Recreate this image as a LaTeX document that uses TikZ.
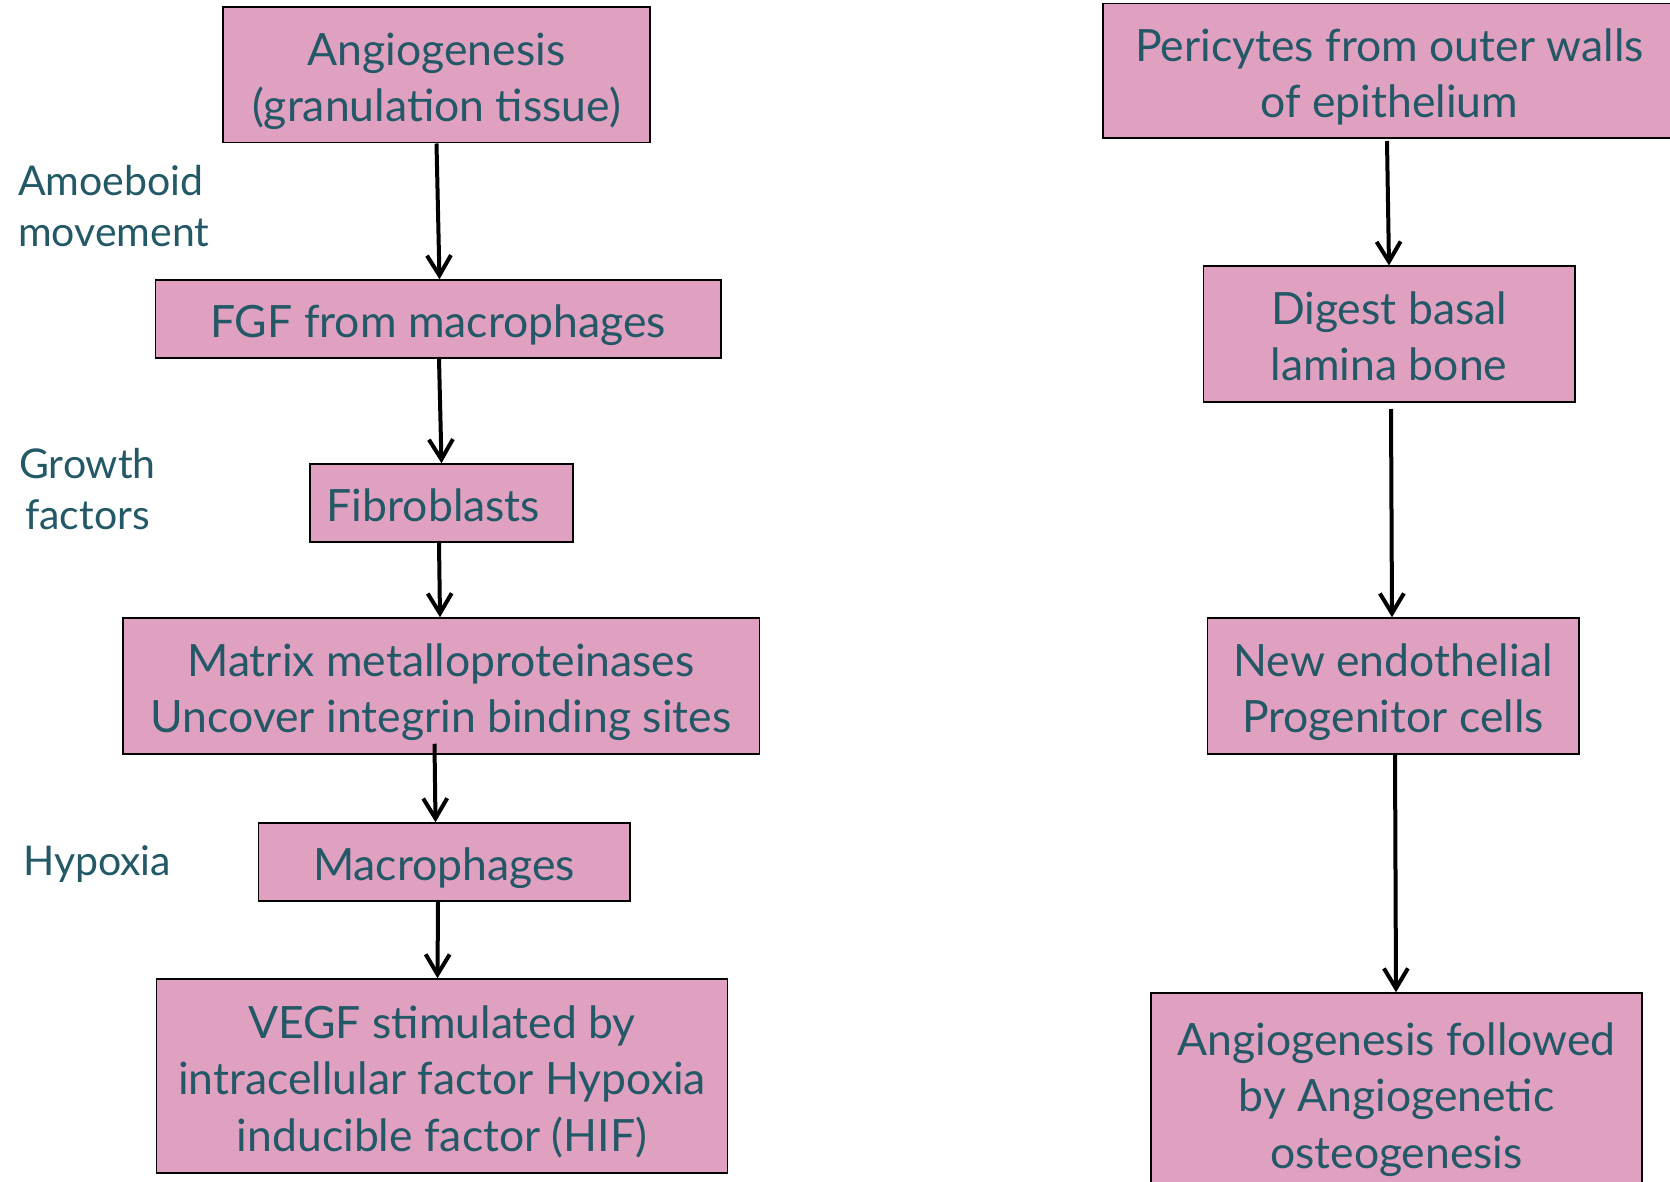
\documentclass[tikz,border=0pt]{standalone}
\usepackage{fontspec}
\setmainfont{Lato}
\usetikzlibrary{arrows.meta}
\definecolor{boxpink}{RGB}{224,160,192}
\definecolor{tealtext}{RGB}{35,88,102}
\tikzset{
  stage/.style={draw=black, line width=1.5pt, fill=boxpink, text=tealtext,
    align=center, inner sep=0pt, text depth=0pt, font=\fontsize{44.5}{56.5}\selectfont},
  oneline/.style={text height=37pt},
  twolines/.style={text height=93.5pt},
  threelines/.style={text height=150pt},
  sidenote/.style={text=tealtext, inner sep=0pt, font=\fontsize{41}{51}\selectfont},
  flow/.style={line width=4pt, -{Straight Barb[length=20pt,width=24pt,line width=4pt]}}
}
\begin{document}
\begin{tikzpicture}[x=1pt,y=-1pt]
\useasboundingbox (0,0) rectangle (1670,1182);
\clip (0,0) rectangle (1670,1182);

% left column
\node[stage, twolines, minimum width=427, minimum height=135.5] (ang) at (436.5,75) {Angiogenesis\\(granulation tissue)};
\node[stage, oneline, minimum width=565.5, minimum height=78] (fgf) at (438,319) {FGF from macrophages};
\node[stage, oneline, minimum width=263, minimum height=78] (fib) at (441.5,503) {Fibroblasts\hspace{16pt}};
\node[stage, twolines, minimum width=636.5, minimum height=136] (mmp) at (441,686) {Matrix metalloproteinases\\Uncover integrin binding sites};
\node[stage, oneline, minimum width=371.5, minimum height=78] (mac) at (444,862) {Macrophages};
\node[stage, threelines, minimum width=571, minimum height=194] (vegf) at (442,1076) {VEGF stimulated by\\intracellular factor Hypoxia\\inducible factor (HIF)};

% right column
\node[stage, twolines, minimum width=573, minimum height=134.5] (peri) at (1389.5,71) {Pericytes from outer walls\\of epithelium};
\node[stage, twolines, minimum width=371.5, minimum height=135.5] (dig) at (1389,334) {Digest basal\\lamina bone};
\node[stage, twolines, minimum width=371.5, minimum height=136] (endo) at (1393,686) {New endothelial\\Progenitor cells};
\node[stage, threelines, minimum width=491, minimum height=200] (osteo) at (1396.5,1093) {Angiogenesis followed\\by Angiogenetic\\osteogenesis};

% side notes (base anchor sits on the last line)
\node[sidenote, align=left, anchor=base west] (amoe) at (18,247) {Amoeboid\\movement};
\node[sidenote, align=center, anchor=base] (grow) at (87.5,529) {Growth\\factors};
\node[sidenote, anchor=base west] (hypo) at (23,875) {Hypoxia};

% connectors
\draw[flow] (ang.south) -- ([xshift=1.5]fgf.north);
\draw[flow] ([xshift=1]fgf.south) -- (fib.north);
\draw[flow] ([xshift=-2.5]fib.south) -- ([xshift=-1]mmp.north);
\draw[flow] ([xshift=-6.5,yshift=11]mmp.south) -- ([xshift=-8.5]mac.north);
\draw[flow] ([xshift=-6]mac.south) -- ([xshift=-4.5]vegf.north);

\draw[flow] ([xshift=-2.5,yshift=-2]peri.south) -- (dig.north);
\draw[flow] ([xshift=2,yshift=-6.5]dig.south) -- ([xshift=-1]endo.north);
\draw[flow] ([xshift=2]endo.south) -- ([xshift=-0.5]osteo.north);
\end{tikzpicture}
\end{document}
